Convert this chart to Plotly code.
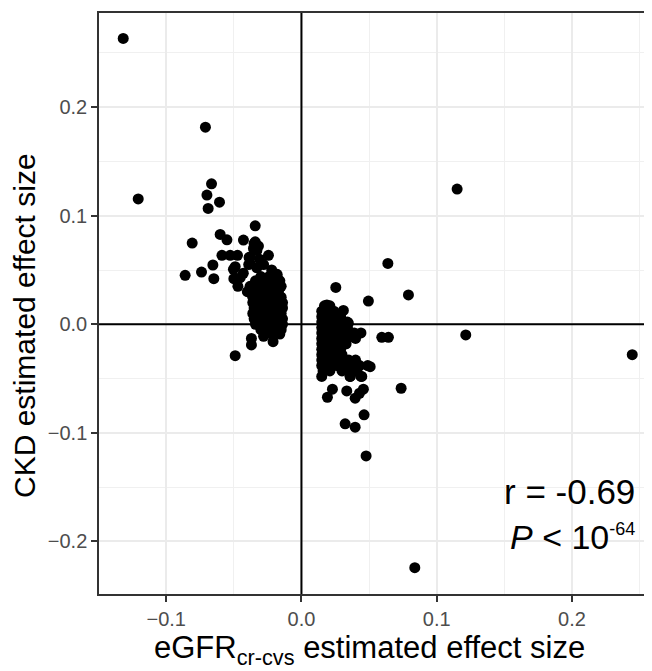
import plotly.graph_objects as go

# ---- data ----
outlier_x = [-0.1318, -0.1207, -0.0710, -0.0665, -0.0699, -0.0606, -0.0690, -0.0808, -0.0860,
             -0.0739, -0.0648, -0.0655, -0.0342, -0.0601, -0.0551, -0.0429, -0.0342, -0.0588,
             -0.0527, -0.0473, -0.0503, -0.0453, -0.0387, -0.0355, -0.0244, -0.0318, -0.0490,
             0.1151, 0.0639, 0.0791, 0.0495, 0.0254, 0.0310, 0.0594, 0.0643, 0.1215, 0.2446,
             0.0838, 0.0737, 0.0508, 0.0229, 0.0192, 0.0335, 0.0397, 0.0458, 0.0429, 0.0463,
             0.0323, 0.0397, 0.0478, 0.0360, 0.0446, 0.0188, 0.0347]
outlier_y = [0.2633, 0.1155, 0.1815, 0.1294, 0.1190, 0.1125, 0.1067, 0.0748, 0.0451,
             0.0481, 0.0420, 0.0546, 0.0907, 0.0828, 0.0778, 0.0776, 0.0760, 0.0635,
             0.0635, 0.0635, 0.0506, 0.0429, 0.0616, 0.0699, 0.0635, 0.0720, -0.0289,
             0.1245, 0.0561, 0.0270, 0.0214, 0.0340, 0.0128, -0.0120, -0.0120, -0.0098, -0.0280,
             -0.2242, -0.0589, -0.0390, -0.0598, -0.0672, -0.0614, -0.0681, -0.0598, -0.0635, -0.0834,
             -0.0917, -0.0948, -0.1212, -0.0480, -0.0480, 0.0178, 0.0010]

left_cluster_x = [-0.030, -0.024, -0.018,
                  -0.034, -0.028, -0.022, -0.016,
                  -0.038, -0.032, -0.026, -0.020, -0.015,
                  -0.040, -0.035, -0.029, -0.023, -0.017,
                  -0.036, -0.031, -0.026, -0.021, -0.015,
                  -0.036, -0.031, -0.026, -0.020, -0.014,
                  -0.035, -0.030, -0.025, -0.019, -0.014,
                  -0.036, -0.031, -0.026, -0.020, -0.015,
                  -0.035, -0.030, -0.024, -0.019, -0.014,
                  -0.034, -0.029, -0.024, -0.019, -0.014,
                  -0.030, -0.025, -0.020, -0.015,
                  -0.027, -0.022, -0.016,
                  -0.035, -0.033, -0.038, -0.039, -0.028, -0.033, -0.022, -0.018, -0.031,
                  -0.050, -0.047, -0.049, -0.043, -0.038,
                  -0.037, -0.037, -0.028, -0.021]
left_cluster_y = [0.044, 0.044, 0.044,
                  0.040, 0.040, 0.040, 0.040,
                  0.035, 0.035, 0.035, 0.035, 0.035,
                  0.030, 0.030, 0.030, 0.030, 0.030,
                  0.025, 0.025, 0.025, 0.025, 0.025,
                  0.020, 0.020, 0.020, 0.020, 0.020,
                  0.015, 0.015, 0.015, 0.015, 0.015,
                  0.010, 0.010, 0.010, 0.010, 0.010,
                  0.005, 0.005, 0.005, 0.005, 0.005,
                  0.000, 0.000, 0.000, 0.000, 0.000,
                  -0.005, -0.005, -0.005, -0.005,
                  -0.009, -0.009, -0.009,
                  0.0745, 0.068, 0.062, 0.055, 0.055, 0.052, 0.050, 0.046, 0.060,
                  0.042, 0.035, 0.053, 0.047, 0.056,
                  -0.013, -0.019, -0.011, -0.016]

right_cluster_x = [0.017, 0.021,
                   0.015, 0.019, 0.024,
                   0.015, 0.019, 0.024, 0.029,
                   0.015, 0.019, 0.024, 0.029, 0.034,
                   0.015, 0.019, 0.024, 0.029, 0.034,
                   0.015, 0.019, 0.024, 0.029, 0.034, 0.039, 0.044,
                   0.015, 0.019, 0.024, 0.029, 0.034, 0.040,
                   0.015, 0.019, 0.024, 0.029, 0.033,
                   0.015, 0.019, 0.024, 0.029,
                   0.015, 0.019, 0.024, 0.030,
                   0.015, 0.019, 0.024, 0.030, 0.035, 0.040,
                   0.015, 0.020, 0.026, 0.032, 0.037, 0.043, 0.049,
                   0.016, 0.021, 0.030, 0.036, 0.041,
                   0.015, 0.036, 0.044]
right_cluster_y = [0.017, 0.017,
                   0.012, 0.012, 0.012,
                   0.007, 0.007, 0.007, 0.007,
                   0.002, 0.002, 0.002, 0.002, 0.002,
                   -0.003, -0.003, -0.003, -0.003, -0.003,
                   -0.008, -0.008, -0.008, -0.008, -0.008, -0.008, -0.008,
                   -0.013, -0.013, -0.013, -0.013, -0.013, -0.013,
                   -0.018, -0.018, -0.018, -0.018, -0.018,
                   -0.023, -0.023, -0.023, -0.023,
                   -0.028, -0.028, -0.028, -0.028,
                   -0.033, -0.033, -0.033, -0.033, -0.033, -0.033,
                   -0.038, -0.038, -0.038, -0.038, -0.038, -0.038, -0.038,
                   -0.043, -0.043, -0.043, -0.043, -0.043,
                   -0.048, -0.048, -0.048]

x_ticks = [-0.1, 0.0, 0.1, 0.2]
x_tick_labels = ["\u22120.1", "0.0", "0.1", "0.2"]
y_ticks = [-0.2, -0.1, 0.0, 0.1, 0.2]
y_tick_labels = ["\u22120.2", "\u22120.1", "0.0", "0.1", "0.2"]
x_range = [-0.1497, 0.2592]
y_range = [-0.2484, 0.2867]

FONT = "Liberation Sans, Arial, Helvetica, sans-serif"

all_x = outlier_x + left_cluster_x + right_cluster_x
all_y = outlier_y + left_cluster_y + right_cluster_y

fig = go.Figure()
fig.add_trace(go.Scatter(
    x=all_x, y=all_y, mode="markers",
    marker=dict(color="black", size=11, line=dict(width=0)),
    showlegend=False, hoverinfo="skip"))

# reference lines at zero
fig.add_hline(y=0, line=dict(color="black", width=2), layer="above")
fig.add_vline(x=0, line=dict(color="black", width=2), layer="above")

axis_common = dict(
    showgrid=True, gridcolor="#EBEBEB", gridwidth=2,
    zeroline=False, showline=True, linecolor="#333333", linewidth=1.5,
    ticks="outside", ticklen=6, tickwidth=1.5, tickcolor="#333333",
    tickfont=dict(family=FONT, size=20, color="#4D4D4D"),
    minor=dict(showgrid=True, gridcolor="#F0F0F0", gridwidth=1.2, ticks=""),
)

fig.update_xaxes(range=x_range, tickvals=x_ticks, ticktext=x_tick_labels,
                 mirror=True, minor_dtick=0.05, minor_tick0=0.05, **axis_common)
fig.update_yaxes(range=y_range, tickvals=y_ticks, ticktext=y_tick_labels,
                 mirror=False, minor_dtick=0.05, minor_tick0=0.05, **axis_common)

NB = "\u00a0"
annotations = [
    dict(text="eGFR<sub>cr-cvs</sub> estimated effect size", xref="paper", yref="paper",
         x=0.4894, y=-0.097, xanchor="center", yanchor="middle", showarrow=False,
         font=dict(family=FONT, size=31, color="black")),
    dict(text="CKD estimated effect size", xref="paper", yref="paper",
         x=-0.1338, y=0.4613, xanchor="center", yanchor="middle", textangle=-90, showarrow=False,
         font=dict(family=FONT, size=30, color="black")),
    dict(text="r = -0.69", xref="paper", yref="paper",
         x=0.9724, y=0.1759, xanchor="right", yanchor="middle", showarrow=False,
         font=dict(family=FONT, size=35, color="black")),
    dict(text="<i>P</i>" + NB + "<" + NB + "10<sup><span style='font-size:18px'>-64</span></sup>",
         xref="paper", yref="paper",
         x=0.9724, y=0.0985, xanchor="right", yanchor="middle", showarrow=False,
         font=dict(family=FONT, size=34, color="black")),
]

# the page body has an 8px margin, so the figure is 8px smaller than the window
fig.update_layout(
    width=644, height=663,
    margin=dict(l=91, r=0, t=5, b=77),
    paper_bgcolor="white", plot_bgcolor="white",
    annotations=annotations,
    font=dict(family=FONT),
)

fig.write_html("out.html")
